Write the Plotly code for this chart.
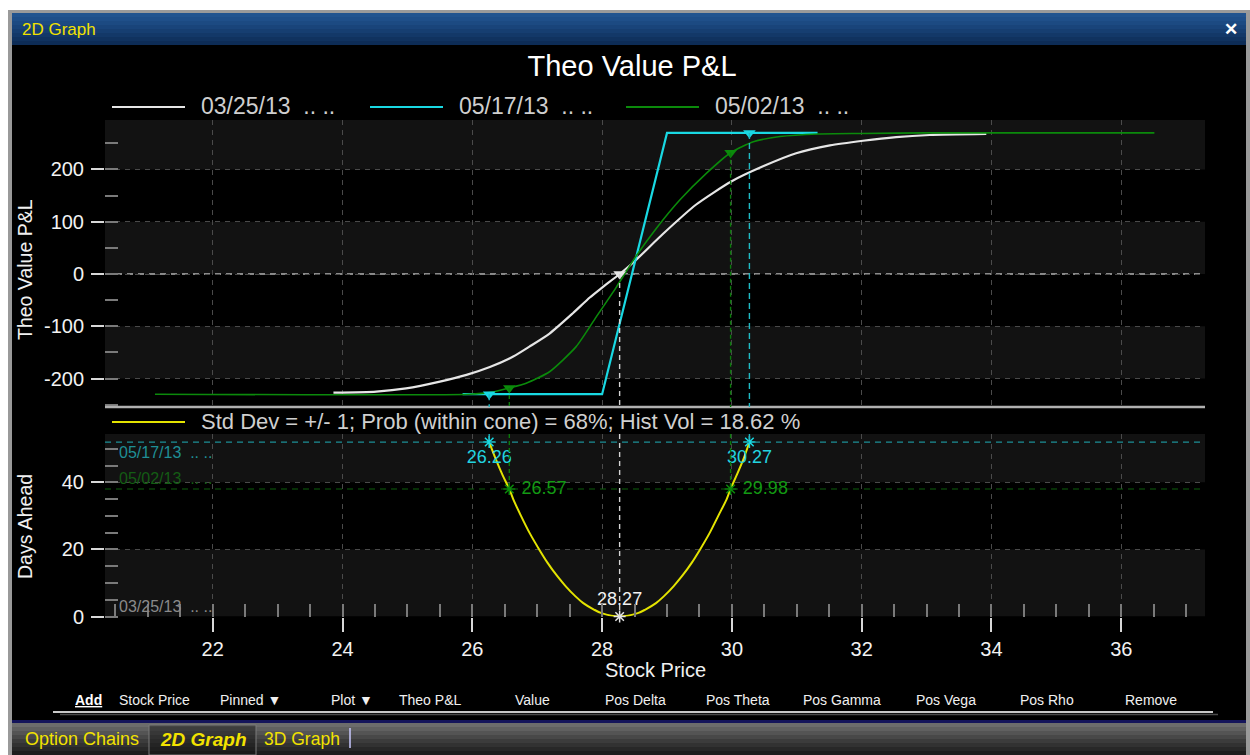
import plotly.graph_objects as go

W, H = 1250, 755
FONT = "Liberation Sans"

# ---------------- data ----------------
series_dates = ["03/25/13", "05/17/13", "05/02/13"]
series_colors = ["#e6e6e6", "#19d9e3", "#0b8a0b"]
series_widths = [2.2, 2.2, 1.6]
series_shapes = ["spline", "linear", "spline"]

price_0325 = [23.86, 24.52, 24.98, 25.50, 25.91, 26.27, 26.63, 26.88, 27.19, 27.55, 27.81,
              27.99, 28.27, 28.48, 28.94, 29.45, 29.99, 30.48, 30.99, 31.51, 32.02, 32.53,
              33.05, 33.92]
pl_0325 = [-227, -225, -219, -206, -193, -178, -158, -139, -114, -75, -45,
           -27, 0, 22, 77, 133, 177, 206, 231, 246, 255, 262,
           266, 268]

price_0517 = [25.85, 28.00, 29.00, 31.32]
pl_0517 = [-230, -230, 270, 270]

price_0502 = [21.11, 25.95, 26.30, 26.57, 26.83, 27.19, 27.60, 27.91, 28.22, 28.50, 28.84,
              29.20, 29.61, 29.98, 30.33, 30.74, 31.33, 32.00, 33.00, 36.51]
pl_0502 = [-230, -230, -226, -218, -209, -187, -139, -82, -25, 30, 88,
           142, 193, 232, 253, 263, 268, 269, 270, 270]

series_price = [price_0325, price_0517, price_0502]
series_pl = [pl_0325, pl_0517, pl_0502]

# probability cone (price vs days ahead)
cone_price = [26.26, 26.36, 26.47, 26.57, 26.63, 26.75, 26.88, 27.03, 27.16, 27.31, 27.44,
              27.59, 27.71, 27.88, 27.99, 28.27, 28.55, 28.66, 28.83, 28.95, 29.10, 29.23,
              29.38, 29.51, 29.66, 29.79, 29.92, 29.98, 30.07, 30.18, 30.27]
cone_days = [52, 47, 42, 38, 35, 30, 25, 20, 16, 12, 9,
             6, 4, 2, 1, 0, 1, 2, 4, 6, 9, 12,
             16, 20, 25, 30, 35, 38, 42, 47, 52]
cone_text = "Std Dev = +/- 1; Prob (within cone) = 68%; Hist Vol = 18.62 %"

# pinned points for each date: prices, P&L and days ahead
pin_prices = [[28.27], [26.26, 30.27], [26.57, 29.98]]
pin_pl = [[0], [-230, 270], [-218, 232]]
pin_days = [0, 52, 38]
pin_labels = [["28.27"], ["26.26", "30.27"], ["26.57", "29.98"]]
pin_textpos = ["top center", "bottom center", "middle right"]
pin_label_colors = ["#f2f2f2", "#22d4e0", "#139a13"]
date_label_colors = ["#8a8a8a", "#1f8f96", "#145c14"]
hline_colors = [None, "#1d8f96", "#0d5e0d"]

x_ticks = [22, 24, 26, 28, 30, 32, 34, 36]
x_tick_labels = ["22", "24", "26", "28", "30", "32", "34", "36"]
pl_ticks = [-200, -100, 0, 100, 200]
pl_tick_labels = ["-200", "-100", "0", "100", "200"]
day_ticks = [0, 20, 40]
day_tick_labels = ["0", "20", "40"]
x_range = [20.34, 37.29]
pl_range = [-254.5, 294.7]
day_range = [0, 54.4]

toolbar_items = ["Stock Price", "Pinned \u25BC", "Plot \u25BC", "Theo P&L", "Value", "Pos Delta",
                 "Pos Theta", "Pos Gamma", "Pos Vega", "Pos Rho", "Remove"]
toolbar_x = [154, 250, 352, 430, 532, 635, 738, 842, 946, 1047, 1151]


def px(x):
    return x / W


def py(y):
    return 1 - y / H


fig = go.Figure()

# ---------------- top chart: theo value P&L ----------------
for i in range(3):
    fig.add_trace(go.Scatter(
        x=series_price[i], y=series_pl[i], mode="lines",
        line=dict(color=series_colors[i], width=series_widths[i], shape=series_shapes[i],
                  smoothing=0.6),
        xaxis="x", yaxis="y", showlegend=False, hoverinfo="skip"))
for i in range(3):
    fig.add_trace(go.Scatter(
        x=pin_prices[i], y=pin_pl[i], mode="markers",
        marker=dict(symbol="triangle-down", size=11, color=series_colors[i],
                    line=dict(width=0)),
        cliponaxis=False, xaxis="x", yaxis="y", showlegend=False, hoverinfo="skip"))

# ---------------- bottom chart: days ahead cone ----------------
fig.add_trace(go.Scatter(
    x=cone_price, y=cone_days, mode="lines",
    line=dict(color="#e3e300", width=2, shape="spline", smoothing=0.8),
    xaxis="x2", yaxis="y2", showlegend=False, hoverinfo="skip"))
for i in range(3):
    fig.add_trace(go.Scatter(
        x=pin_prices[i], y=[pin_days[i]] * len(pin_prices[i]), mode="markers+text",
        marker=dict(symbol="asterisk-open", size=10, color=series_colors[i],
                    line=dict(color=series_colors[i], width=1.5)),
        text=[(" " + t if pin_textpos[i] == "middle right" else t) for t in pin_labels[i]],
        textposition=pin_textpos[i],
        textfont=dict(family=FONT, size=18, color=pin_label_colors[i]),
        cliponaxis=False, xaxis="x2", yaxis="y2", showlegend=False, hoverinfo="skip"))

shapes = []
annotations = []

# ---------------- window chrome ----------------
shapes.append(dict(type="rect", xref="paper", yref="paper", x0=px(8), x1=px(1250), y0=py(755), y1=py(10),
                   fillcolor="#9a9a9a", line=dict(width=0), layer="below"))
shapes.append(dict(type="rect", xref="paper", yref="paper", x0=px(12), x1=px(1246), y0=py(755), y1=py(13),
                   fillcolor="#000000", line=dict(width=0), layer="below"))
title_cols = ["#22548f", "#1f4f89", "#1c4a82", "#19447a", "#163e71", "#133868", "#10325f", "#0d2c56"]
for k, c in enumerate(title_cols):
    shapes.append(dict(type="rect", xref="paper", yref="paper", x0=px(12), x1=px(1246),
                       y0=py(13 + 4 * (k + 1)), y1=py(13 + 4 * k), fillcolor=c,
                       line=dict(width=0), layer="below"))
tab_cols = ["#6c6c6c", "#606060", "#545454", "#484848", "#3c3c3c", "#323232", "#282828", "#1e1e1e"]
shapes.append(dict(type="rect", xref="paper", yref="paper", x0=px(12), x1=px(1246), y0=py(723), y1=py(720),
                   fillcolor="#14145a", line=dict(width=0), layer="below"))
for k, c in enumerate(tab_cols):
    shapes.append(dict(type="rect", xref="paper", yref="paper", x0=px(12), x1=px(1246),
                       y0=py(723 + 4 * (k + 1)), y1=py(723 + 4 * k), fillcolor=c,
                       line=dict(width=0), layer="below"))
shapes.append(dict(type="rect", xref="paper", yref="paper", x0=px(149), x1=px(256), y0=py(755), y1=py(725),
                   fillcolor="rgba(20,20,20,0.45)", line=dict(color="#7a7a7a", width=1), layer="below"))
shapes.append(dict(type="line", xref="paper", yref="paper", x0=px(350), x1=px(350), y0=py(748), y1=py(728),
                   line=dict(color="#c8c8ff", width=1.5)))
# toolbar separator
shapes.append(dict(type="line", xref="paper", yref="paper", x0=px(53), x1=px(1213), y0=py(712), y1=py(712),
                   line=dict(color="#c8c8c8", width=2)))
shapes.append(dict(type="line", xref="paper", yref="paper", x0=px(60), x1=px(1218), y0=py(714.5), y1=py(714.5),
                   line=dict(color="#4a4a4a", width=1.5)))

annotations.append(dict(text="2D Graph", xref="paper", yref="paper", x=px(20), y=py(30),
                        xanchor="left", yanchor="middle", showarrow=False,
                        font=dict(family=FONT, size=17, color="#f2e200")))
annotations.append(dict(text="<b>\u2715</b>", xref="paper", yref="paper", x=px(1231), y=py(30),
                        xanchor="center", yanchor="middle", showarrow=False,
                        font=dict(family=FONT, size=17, color="#ffffff")))
annotations.append(dict(text="Option Chains", xref="paper", yref="paper", x=px(23), y=py(739),
                        xanchor="left", yanchor="middle", showarrow=False,
                        font=dict(family=FONT, size=18, color="#f2e200")))
annotations.append(dict(text="<b><i>2D Graph</i></b>", xref="paper", yref="paper", x=px(203), y=py(739),
                        xanchor="center", yanchor="middle", showarrow=False,
                        font=dict(family=FONT, size=19, color="#f2e200")))
annotations.append(dict(text="3D Graph", xref="paper", yref="paper", x=px(302), y=py(739),
                        xanchor="center", yanchor="middle", showarrow=False,
                        font=dict(family=FONT, size=17.5, color="#f2e200")))
annotations.append(dict(text="<b><u>Add</u></b>", xref="paper", yref="paper", x=px(88), y=py(700),
                        xanchor="center", yanchor="middle", showarrow=False,
                        font=dict(family=FONT, size=14, color="#ffffff")))
for t, xx in zip(toolbar_items, toolbar_x):
    annotations.append(dict(text=t, xref="paper", yref="paper", x=px(xx), y=py(700),
                            xanchor="center", yanchor="middle", showarrow=False,
                            font=dict(family=FONT, size=14, color="#f0f0f0")))

# ---------------- legends ----------------
leg_line_x = [112, 370, 626]
for i in range(3):
    shapes.append(dict(type="line", xref="paper", yref="paper", x0=px(leg_line_x[i]), x1=px(leg_line_x[i] + 73),
                       y0=py(107), y1=py(107), line=dict(color=series_colors[i], width=2)))
    annotations.append(dict(text=series_dates[i] + "  .. ..", xref="paper", yref="paper",
                            x=px(leg_line_x[i] + 87), y=py(106), xanchor="left", yanchor="middle",
                            showarrow=False, font=dict(family=FONT, size=23, color="#cfcfcf")))
shapes.append(dict(type="line", xref="paper", yref="paper", x0=px(112), x1=px(185),
                   y0=py(422), y1=py(422), line=dict(color="#e3e300", width=2)))
annotations.append(dict(text=cone_text, xref="paper", yref="paper", x=px(199), y=py(421),
                        xanchor="left", yanchor="middle", showarrow=False,
                        font=dict(family=FONT, size=22, color="#cfcfcf")))

# axis titles
annotations.append(dict(text="Theo Value P&L", xref="paper", yref="paper", x=px(25), y=py(270),
                        textangle=-90, xanchor="center", yanchor="middle", showarrow=False,
                        font=dict(family=FONT, size=19.5, color="#f0f0f0")))
annotations.append(dict(text="Days Ahead", xref="paper", yref="paper", x=px(25), y=py(527),
                        textangle=-90, xanchor="center", yanchor="middle", showarrow=False,
                        font=dict(family=FONT, size=19.5, color="#f0f0f0")))
annotations.append(dict(text="Stock Price", xref="paper", yref="paper", x=px(655), y=py(670),
                        xanchor="center", yanchor="middle", showarrow=False,
                        font=dict(family=FONT, size=20, color="#f0f0f0")))

# ---------------- plot decorations ----------------
band_fill = "#121212"
top_bands = [(pl_ticks[4], pl_range[1]), (pl_ticks[2], pl_ticks[3]), (pl_ticks[0], pl_ticks[1])]
for a, b in top_bands:
    shapes.append(dict(type="rect", xref="x domain", yref="y", x0=0, x1=1, y0=a, y1=b,
                       fillcolor=band_fill, line=dict(width=0), layer="below"))
bot_bands = [(day_ticks[2], day_range[1]), (day_ticks[0], day_ticks[1])]
for a, b in bot_bands:
    shapes.append(dict(type="rect", xref="x2 domain", yref="y2", x0=0, x1=1, y0=a, y1=b,
                       fillcolor=band_fill, line=dict(width=0), layer="below"))
# zero line (dashed, brighter)
shapes.append(dict(type="line", xref="x domain", yref="y", x0=0, x1=1, y0=0, y1=0,
                   line=dict(color="#b4b4b4", width=1.5, dash="6px,5px"), layer="below"))
# bottom separator of top chart
shapes.append(dict(type="line", xref="x domain", yref="y domain", x0=0, x1=1, y0=0, y1=0,
                   line=dict(color="#b0b0b0", width=2.5)))

vdash = ["5px,4px", "6px,4px", "4px,3px"]
vcols = ["#d4d4d4", "#1fbac4", "#0a7a0a"]
for i in range(3):
    for xp, yp in zip(pin_prices[i], pin_pl[i]):
        shapes.append(dict(type="line", xref="x", yref="y", x0=xp, x1=xp, y0=yp, y1=pl_range[0],
                           line=dict(color=vcols[i], width=1.4, dash=vdash[i])))
        shapes.append(dict(type="line", xref="x2", yref="y2", x0=xp, x1=xp, y0=day_range[1],
                           y1=pin_days[i], line=dict(color=vcols[i], width=1.4, dash=vdash[i])))
    if hline_colors[i]:
        shapes.append(dict(type="line", xref="x2 domain", yref="y2", x0=0, x1=1, y0=pin_days[i],
                           y1=pin_days[i], line=dict(color=hline_colors[i], width=1.2, dash="6px,5px")))
# date labels in bottom chart
date_label_anchor = ["bottom", "top", "bottom"]
for i in range(3):
    annotations.append(dict(text=series_dates[i] + "  .. ..", xref="x2 domain", yref="y2",
                            x=0.011, y=pin_days[i], xanchor="left", yanchor=date_label_anchor[i],
                            showarrow=False, font=dict(family=FONT, size=16, color=date_label_colors[i])))

grid_common = dict(showline=False, zeroline=False, gridcolor="#4a4a4a", griddash="5px,5px",
                   gridwidth=1, automargin=False)
x_dom = [px(105), px(1205)]
tickfont = dict(family=FONT, size=20, color="#f2f2f2")

fig.update_layout(
    width=W, height=H, margin=dict(l=0, r=0, t=0, b=0, pad=0, autoexpand=False),
    paper_bgcolor="#ffffff", plot_bgcolor="#000000",
    title=dict(text="Theo Value P&L", x=px(632), y=py(66), xanchor="center", yanchor="middle",
               font=dict(family=FONT, size=29, color="#ffffff")),
    xaxis=dict(domain=x_dom, range=x_range, anchor="y", tickmode="array", tickvals=x_ticks,
               showticklabels=False, ticks="", **grid_common),
    yaxis=dict(domain=[py(407), py(120)], range=pl_range, anchor="x", tickmode="array",
               tickvals=pl_ticks, ticktext=pl_tick_labels,
               ticks="outside", ticklen=13, tickcolor="#d8d8d8", tickwidth=1.5,
               tickfont=tickfont, ticklabelstandoff=3,
               minor=dict(tickmode="linear", dtick=50, tick0=0, ticks="inside", ticklen=13,
                          tickcolor="#7a7a7a", tickwidth=1.5, showgrid=False),
               **grid_common),
    xaxis2=dict(domain=x_dom, range=x_range, anchor="y2", tickmode="array", tickvals=x_ticks,
                ticktext=x_tick_labels, ticks="outside", ticklen=14, tickcolor="#d8d8d8",
                tickwidth=1.5, tickfont=tickfont,
                minor=dict(tickmode="linear", dtick=0.5, tick0=0, ticks="inside", ticklen=13,
                           tickcolor="#7a7a7a", tickwidth=1.5, showgrid=False),
                **grid_common),
    yaxis2=dict(domain=[py(616.5), py(434)], range=day_range, anchor="x2", tickmode="array",
                tickvals=day_ticks, ticktext=day_tick_labels,
                ticks="outside", ticklen=13, tickcolor="#d8d8d8", tickwidth=1.5,
                tickfont=tickfont, ticklabelstandoff=3,
                minor=dict(tickmode="linear", dtick=5, tick0=0, ticks="inside", ticklen=13,
                           tickcolor="#7a7a7a", tickwidth=1.5, showgrid=False),
                **grid_common),
    shapes=shapes, annotations=annotations, showlegend=False,
)

fig.write_html("out.html", config={"displayModeBar": False},
               post_script="document.body.style.margin='0';document.body.style.overflow='hidden';")
